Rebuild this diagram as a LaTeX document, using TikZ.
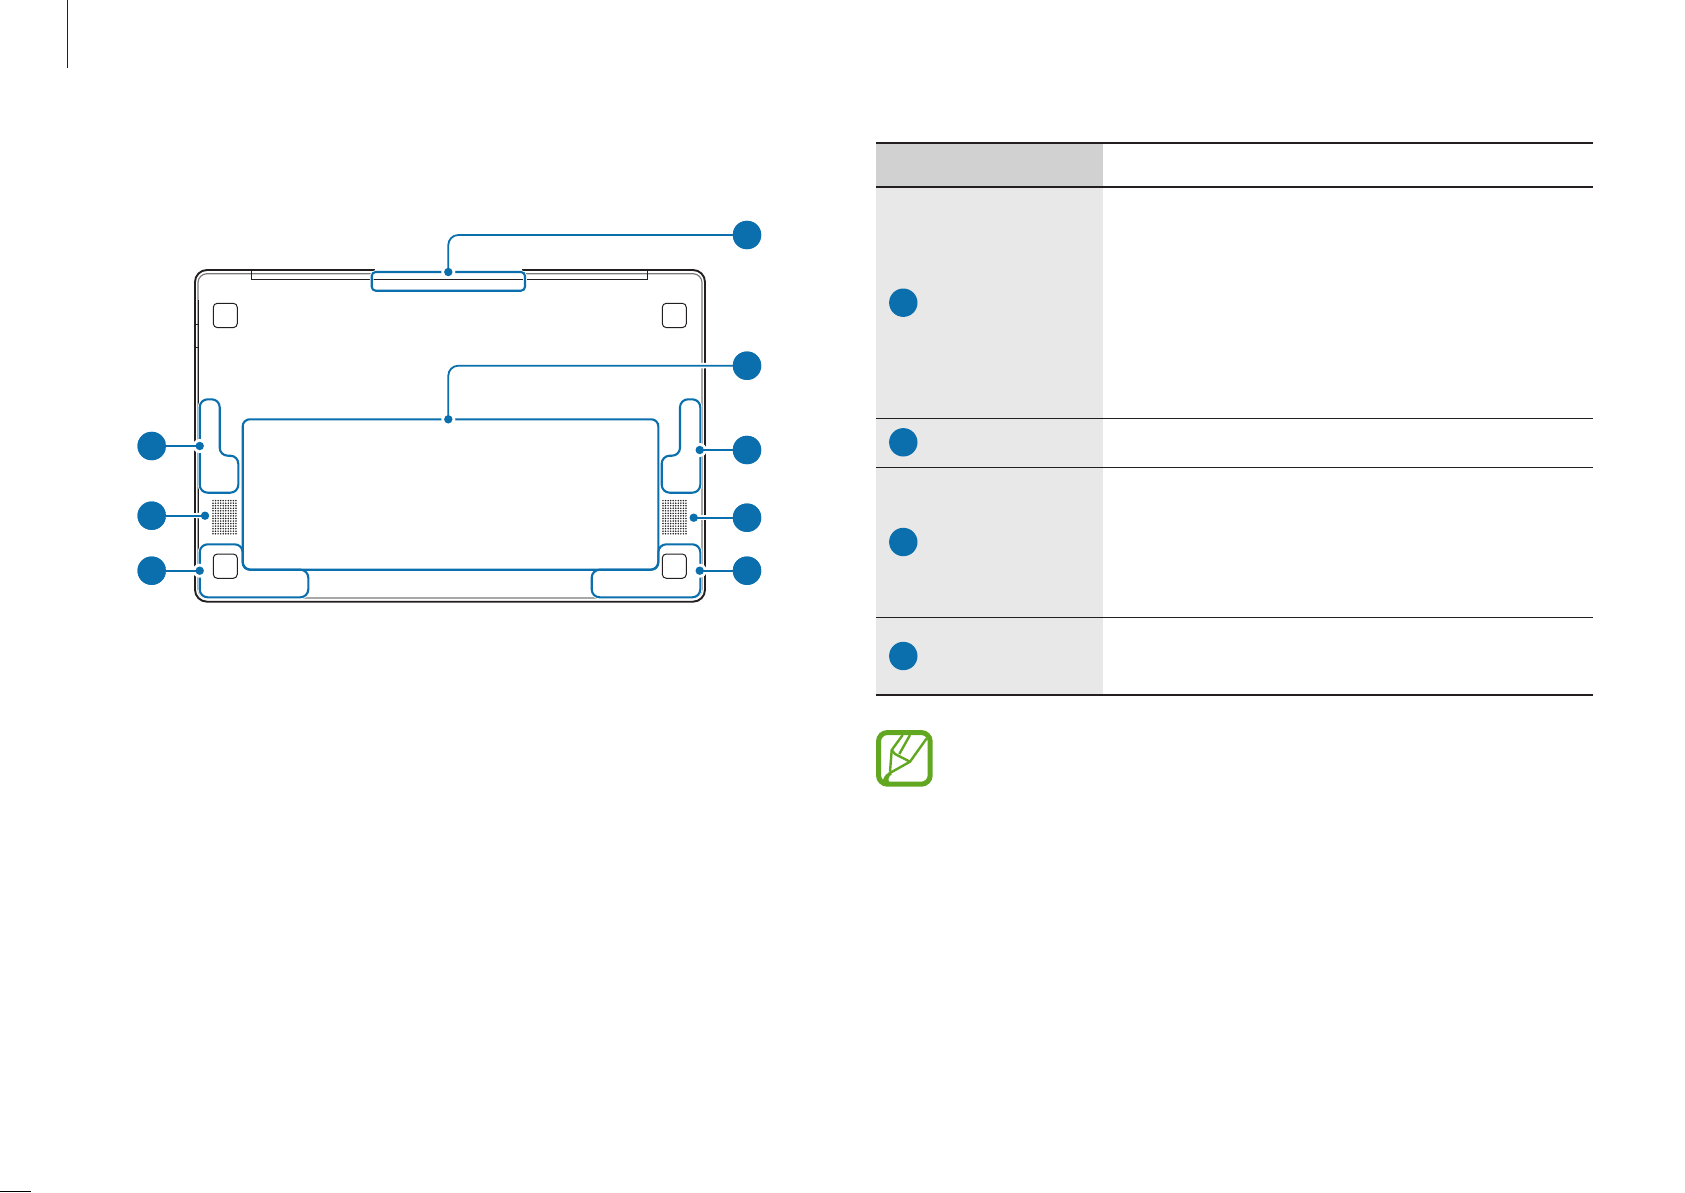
\documentclass[tikz,border=0pt]{standalone}
\definecolor{sblue}{HTML}{0B6FAE}
\definecolor{rulek}{HTML}{231F20}
\definecolor{hdrgray}{HTML}{D1D1D1}
\definecolor{cellgray}{HTML}{E8E8E8}
\definecolor{igreen}{HTML}{62A720}
\definecolor{innergray}{HTML}{7A7A7A}
\tikzset{
  x=1pt,y=-1pt,
  bigdot/.style={circle,fill=sblue,draw=none,minimum size=28.4pt,inner sep=0pt},
  smalldot/.style={circle,fill=sblue,draw=none,minimum size=8.4pt,inner sep=0pt},
  halodot/.style={circle,fill=white,draw=none,minimum size=14pt,inner sep=0pt},
  zonehalo/.style={draw=white,line width=3.8pt},
  zoneline/.style={draw=sblue,line width=2.1pt},
  leadhalo/.style={draw=white,line width=5.5pt},
  leadline/.style={draw=sblue,line width=1.8pt},
  foot/.style={draw=rulek,line width=1pt,rounded corners=4pt},
  thickrule/.style={draw=rulek,line width=2.1pt},
  thinrule/.style={draw=rulek,line width=1.1pt},
  icon/.style={draw=igreen,line width=2.4pt,line join=round}
}
\newcommand{\zoneA}{[rounded corners=4pt] (371.7,272) -- (525,272) -- (525,290.7) -- (371.7,290.7) -- cycle}
\newcommand{\zoneB}{[rounded corners=7pt] (242.7,419.3) -- (658.3,419.3) -- (658.3,569.7) -- (242.7,569.7) -- cycle}
\newcommand{\zoneC}{[rounded corners=8pt] (199.7,399.3) -- (219.7,399.3) -- (219.7,455.7) -- (238.3,455.7) -- (238.3,492.7) -- (199.7,492.7) -- cycle}
\newcommand{\zoneD}{[rounded corners=8pt] (700.3,399.3) -- (680,399.3) -- (680,455.7) -- (661.7,455.7) -- (661.7,492.7) -- (700.3,492.7) -- cycle}
\newcommand{\zoneE}{[rounded corners=8pt] (199.7,544.3) -- (242.7,544.3) -- (242.7,569.7) -- (308.3,569.7) -- (308.3,597.3) -- (199.7,597.3) -- cycle}
\newcommand{\zoneF}{[rounded corners=8pt] (700.3,544.3) -- (658.3,544.3) -- (658.3,569.7) -- (591.7,569.7) -- (591.7,597.3) -- (700.3,597.3) -- cycle}
\begin{document}
\begin{tikzpicture}
\useasboundingbox[fill=white] (0,0) rectangle (1685,1192);
% page furniture
\draw[draw=rulek,line width=1.2pt] (67.3,0) -- (67.3,68);
\draw[draw=black,line width=1.2pt] (0,1191.4) -- (30.7,1191.4);
% notebook body
\draw[draw=rulek,line width=1.9pt,rounded corners=12pt] (195,270) rectangle (705,601.7);
\draw[draw=innergray,line width=1.2pt,rounded corners=9pt] (198,273.7) rectangle (702,598);
\draw[draw=rulek,line width=0.9pt] (198,300) -- (198,590);
\draw[draw=rulek,line width=0.8pt] (195,324.3) -- (198,324.3) (195,347) -- (198,347);
\draw[draw=rulek,line width=1.1pt] (251.7,270) -- (251.7,279.3) -- (647.7,279.3) -- (647.7,270);
% rubber feet
\foreach \fx/\fy/\fn in {213.3/303.3/a,662.3/303.3/b,213.3/554/c,662.3/554/d}
  \draw[foot] (\fx,\fy) rectangle +(24,24.3);
% speaker grilles
\foreach \gx in {213,663}
  \foreach \i in {0,...,9}
    \foreach \j in {0,...,13}
      \fill[rulek] (\gx+\i*2.55,500.6+\j*2.55) circle (0.85pt);
% highlighted zones
\fill[white] (375,268) rectangle (522,275);
\path[zonehalo] \zoneA;
\path[zonehalo] \zoneC;
\path[zonehalo] \zoneD;
\path[zonehalo] \zoneE;
\path[zonehalo] \zoneF;
\path[zoneline] \zoneA;
\path[zoneline] \zoneB;
\path[zoneline] \zoneC;
\path[zoneline] \zoneD;
\path[zoneline] \zoneE;
\path[zoneline] \zoneF;
% callout nodes
\node[bigdot] (c1) at (747,235) {};
\node[bigdot] (c2) at (747,365.7) {};
\node[bigdot] (c3) at (747,450) {};
\node[bigdot] (c4) at (747,517.7) {};
\node[bigdot] (c5) at (747,570.7) {};
\node[bigdot] (c6) at (151.7,446) {};
\node[bigdot] (c7) at (151.7,515.7) {};
\node[bigdot] (c8) at (151.7,570.7) {};
\coordinate (d1) at (448.3,272);
\coordinate (d2) at (448.3,419.3);
\coordinate (d3) at (699.7,450);
\coordinate (d4) at (693.7,517.7);
\coordinate (d5) at (699.7,570.7);
\coordinate (d6) at (199.7,446);
\coordinate (d7) at (205,515.7);
\coordinate (d8) at (199.7,570.7);
% connector halos
\foreach \n in {1,...,8} \node[halodot] at (d\n) {};
\draw[leadhalo,rounded corners=10pt] (c1.center) -| (d1);
\draw[leadhalo,rounded corners=10pt] (c2.center) -| (d2);
\foreach \n in {3,...,8} \draw[leadhalo] (c\n.center) -- (d\n);
% connectors
\draw[leadline,rounded corners=10pt] (c1.center) -| (d1);
\draw[leadline,rounded corners=10pt] (c2.center) -| (d2);
\foreach \n in {3,...,8} \draw[leadline] (c\n.center) -- (d\n);
\foreach \n in {1,...,8} \node[smalldot] (p\n) at (d\n) {};
\foreach \n in {1,...,8} \node[bigdot] at (c\n.center) {};
% table
\fill[hdrgray] (876,143) rectangle (1103,187);
\fill[cellgray] (876,187) rectangle (1103,695);
\draw[thickrule] (876,143) -- (1593,143);
\draw[thickrule] (876,187) -- (1593,187);
\draw[thinrule] (876,418.3) -- (1593,418.3);
\draw[thinrule] (876,467.2) -- (1593,467.2);
\draw[thinrule] (876,617.3) -- (1593,617.3);
\draw[thickrule] (876,695) -- (1593,695);
\node[bigdot] (t1) at (903.3,302.7) {};
\node[bigdot] (t2) at (903.3,442.3) {};
\node[bigdot] (t3) at (903.3,542) {};
\node[bigdot] (t4) at (903.3,656) {};
% note icon
\draw[draw=igreen,line width=5pt,rounded corners=9pt] (878.5,732.5) rectangle (930.2,784.2);
\draw[icon] (902.7,735) -- (891.7,750) -- (890,771.7);
\draw[icon] (910,735) -- (899.3,754);
\draw[icon] (926.7,738.3) -- (910,761.7) -- (889,773.5);
\draw[icon] (891.7,750) -- (895,754) -- (910,761.7);
\fill[igreen] (889,772.5) .. controls (884,775) and (883,779) .. (882.5,783) -- (890,783) .. controls (887.5,780) and (888,777) .. (892,774) -- cycle;
\end{tikzpicture}
\end{document}
